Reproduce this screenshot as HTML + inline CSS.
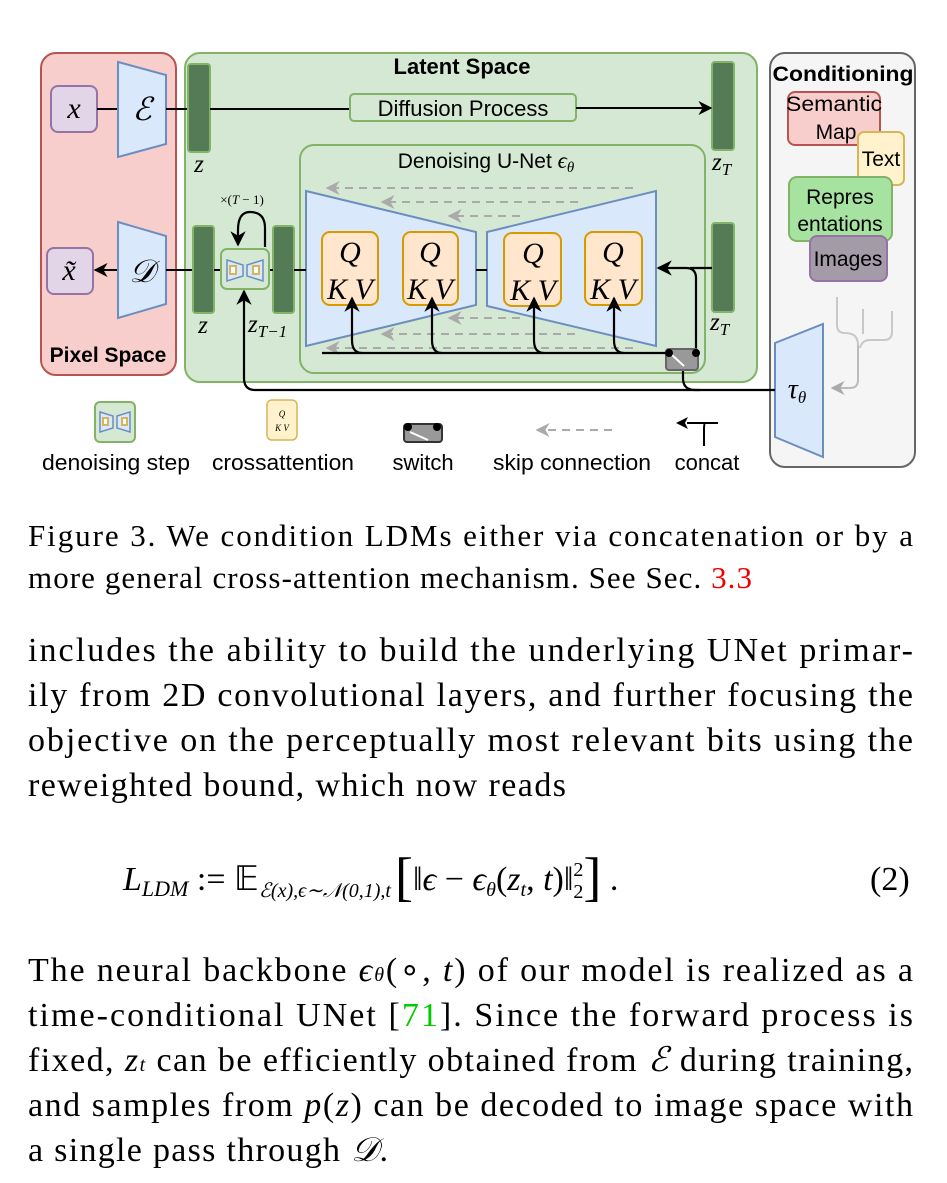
<!DOCTYPE html>
<html><head><meta charset="utf-8"><style>
body{margin:0;background:#fff}
svg{display:block}
.s{font-family:"Liberation Sans",sans-serif}
.r{font-family:"Liberation Serif",serif}
.i{font-family:"Liberation Serif",serif;font-style:italic}
</style></head><body>
<svg width="947" height="1183" viewBox="0 0 947 1183" xmlns="http://www.w3.org/2000/svg">
<defs>
<marker id="ah" viewBox="0 0 10 10" refX="9" refY="5" markerWidth="7" markerHeight="7" orient="auto"><path d="M0,0 L10,5 L0,10 L3,5 z" fill="#000"/></marker>
<marker id="ag" viewBox="0 0 10 10" refX="9" refY="5" markerWidth="7" markerHeight="7" orient="auto"><path d="M0,0 L10,5 L0,10 L3,5 z" fill="#aaa"/></marker>
</defs>
<rect x="41" y="53" width="135" height="322" rx="15" fill="#f8cecc" stroke="#b85450" stroke-width="2"/>
<text x="108" y="362" class="s" font-weight="bold" font-size="21" text-anchor="middle">Pixel Space</text>
<rect x="185" y="53" width="572" height="329" rx="15" fill="#d5e8d4" stroke="#82b366" stroke-width="2"/>
<text x="462" y="74" class="s" font-weight="bold" font-size="22" text-anchor="middle">Latent Space</text>
<rect x="770" y="53" width="145" height="414" rx="15" fill="#f5f5f5" stroke="#666" stroke-width="2"/>
<text x="843" y="81" class="s" font-weight="bold" font-size="21" text-anchor="middle" textLength="141" lengthAdjust="spacingAndGlyphs">Conditioning</text>
<rect x="788" y="92" width="92" height="53" rx="7" fill="#f8cecc" stroke="#b85450" stroke-width="2"/>
<text x="834" y="111" class="s" font-size="21" text-anchor="middle" textLength="96" lengthAdjust="spacingAndGlyphs">Semantic</text>
<text x="836" y="139" class="s" font-size="21" text-anchor="middle">Map</text>
<rect x="858" y="132" width="46" height="53" rx="6" fill="#fff2cc" stroke="#d6b656" stroke-width="2"/>
<text x="881" y="166" class="s" font-size="21" text-anchor="middle">Text</text>
<rect x="789" y="177" width="103" height="64" rx="8" fill="#a6e3a0" stroke="#82b366" stroke-width="2"/>
<text x="840" y="204" class="s" font-size="21" text-anchor="middle">Repres</text>
<text x="840" y="231" class="s" font-size="21" text-anchor="middle">entations</text>
<rect x="810" y="236" width="77" height="45" rx="7" fill="#a39ba8" stroke="#9673a6" stroke-width="2"/>
<text x="848" y="266" class="s" font-size="21" text-anchor="middle">Images</text>
<path d="M837,297 V325 Q837,333 845,333 Q858,333 858,345 M863,309 V334 M892,311 V332 Q892,340 884,340 H870 Q862,340 860,348" fill="none" stroke="#c8c8c8" stroke-width="2"/>
<path d="M858,345 V380 Q858,388 850,388 H832" fill="none" stroke="#bbb" stroke-width="2" marker-end="url(#ag)"/>
<polygon points="775,343 823,324 823,457 775,437" fill="#dae8fc" stroke="#6c8ebf" stroke-width="2"/>
<text x="797" y="398" class="i" font-size="28" text-anchor="middle">τ<tspan font-size="17" dy="5">θ</tspan></text>
<rect x="51" y="86" width="46" height="46" rx="7" fill="#e1d5e7" stroke="#9673a6" stroke-width="2"/>
<text x="74" y="118" class="i" font-size="30" text-anchor="middle">x</text>
<line x1="97" y1="109" x2="118" y2="109" stroke="#000" stroke-width="2"/>
<polygon points="118,62 166,75 166,144 118,157" fill="#dae8fc" stroke="#6c8ebf" stroke-width="2"/>
<text x="142" y="120" class="i" font-size="32" text-anchor="middle">ℰ</text>
<line x1="166" y1="109" x2="188" y2="109" stroke="#000" stroke-width="2"/>
<rect x="47" y="248" width="46" height="46" rx="7" fill="#e1d5e7" stroke="#9673a6" stroke-width="2"/>
<text x="69" y="280" class="i" font-size="30" text-anchor="middle">x̃</text>
<line x1="118" y1="270" x2="95" y2="270" stroke="#000" stroke-width="2" marker-end="url(#ah)"/>
<polygon points="118,222 166,236 166,304 118,318" fill="#dae8fc" stroke="#6c8ebf" stroke-width="2"/>
<text x="142" y="282" class="i" font-size="32" text-anchor="middle">𝒟</text>
<line x1="166" y1="270" x2="193" y2="270" stroke="#000" stroke-width="2"/>
<g fill="#547a56" stroke="#82b366" stroke-width="2">
<rect x="188" y="64" width="22" height="88" rx="3"/>
<rect x="712" y="62" width="22" height="88" rx="3"/>
<rect x="193" y="226" width="21" height="87" rx="3"/>
<rect x="273" y="226" width="21" height="87" rx="3"/>
<rect x="712" y="223" width="22" height="89" rx="3"/>
</g>
<text x="199" y="172" class="i" font-size="25" text-anchor="middle">z</text>
<text x="203" y="333" class="i" font-size="25" text-anchor="middle">z</text>
<text x="712" y="170" class="i" font-size="25">z<tspan font-size="17" dy="5">T</tspan></text>
<text x="710" y="330" class="i" font-size="25">z<tspan font-size="17" dy="5">T</tspan></text>
<text x="248" y="332" class="i" font-size="25">z<tspan font-size="17" dy="5">T−1</tspan></text>
<line x1="210" y1="109" x2="350" y2="109" stroke="#000" stroke-width="2"/>
<rect x="350" y="94" width="226" height="27" rx="4" fill="#d5e8d4" stroke="#82b366" stroke-width="2"/>
<text x="463" y="116" class="s" font-size="22" text-anchor="middle">Diffusion Process</text>
<line x1="576" y1="108" x2="711" y2="108" stroke="#000" stroke-width="2" marker-end="url(#ah)"/>
<rect x="300" y="145" width="405" height="228" rx="14" fill="#d5e8d4" stroke="#82b366" stroke-width="2"/>
<text x="486" y="168" class="s" font-size="21" text-anchor="middle">Denoising U-Net <tspan class="i" font-size="23">ϵ</tspan><tspan class="i" font-size="15" dy="4">θ</tspan></text>
<g stroke="#aaa" stroke-width="2" stroke-dasharray="8,6" fill="none">
<line x1="633" y1="188" x2="327" y2="188" marker-end="url(#ag)"/>
<line x1="578" y1="202" x2="382" y2="202" marker-end="url(#ag)"/>
<line x1="520" y1="216" x2="449" y2="216" marker-end="url(#ag)"/>
<line x1="520" y1="318" x2="449" y2="318" marker-end="url(#ag)"/>
<line x1="575" y1="334" x2="382" y2="334" marker-end="url(#ag)"/>
<line x1="633" y1="348" x2="327" y2="348" marker-end="url(#ag)"/>
</g>
<polygon points="306,191 476,232 476,305 306,346" fill="#dae8fc" stroke="#6c8ebf" stroke-width="2"/>
<polygon points="487,232 656,191 656,346 487,306" fill="#dae8fc" stroke="#6c8ebf" stroke-width="2"/>
<line x1="294" y1="270" x2="306" y2="270" stroke="#000" stroke-width="2"/>
<line x1="476" y1="270" x2="487" y2="270" stroke="#000" stroke-width="2"/>
<line x1="214" y1="270" x2="221" y2="270" stroke="#000" stroke-width="2"/>
<line x1="269" y1="270" x2="273" y2="270" stroke="#000" stroke-width="2"/>
<g fill="#ffe6cc" stroke="#d79b00" stroke-width="2">
<rect x="322" y="232" width="56" height="73" rx="8"/>
<rect x="403" y="232" width="55" height="73" rx="8"/>
<rect x="504" y="233" width="57" height="73" rx="8"/>
<rect x="585" y="232" width="57" height="73" rx="8"/>
</g>
<g class="i" font-size="30" text-anchor="middle">
<text x="350" y="262">Q</text><text x="350" y="299">K V</text>
<text x="430" y="262">Q</text><text x="430" y="299">K V</text>
<text x="533" y="263">Q</text><text x="533" y="300">K V</text>
<text x="613" y="262">Q</text><text x="613" y="299">K V</text>
</g>
<g fill="none" stroke="#000" stroke-width="2.2">
<path d="M322,353 H669"/>
<path d="M362,353 Q352,353 352,340 V298" marker-end="url(#ah)"/>
<path d="M442,353 Q432,353 432,340 V298" marker-end="url(#ah)"/>
<path d="M544,353 Q534,353 534,340 V298" marker-end="url(#ah)"/>
<path d="M624,353 Q614,353 614,340 V298" marker-end="url(#ah)"/>
<path d="M696,353 V278 Q696,268 686,268 H658" marker-end="url(#ah)"/>
<path d="M712,268 H690"/>
<path d="M775,390 H695 Q683,390 683,378 V366"/>
<path d="M700,390 H255 Q244,390 244,378 V291" marker-end="url(#ah)"/>
<path d="M265,247 V228 Q265,212 250,212 Q238,212 238,230 V245" marker-end="url(#ah)"/>
</g>
<rect x="666" y="349" width="32" height="21" rx="3" fill="#999" stroke="#666" stroke-width="2"/>
<line x1="672" y1="355" x2="684" y2="366" stroke="#fff" stroke-width="2"/>
<circle cx="669" cy="353" r="4"/><circle cx="696" cy="353" r="4"/>
<text x="242" y="204" class="r" font-size="13" text-anchor="middle">×(<tspan class="i">T</tspan> − 1)</text>
<rect x="221" y="249" width="48" height="40" rx="6" fill="#d5e8d4" stroke="#82b366" stroke-width="2"/>
<polygon points="227,260 243,265 243,276 227,281" fill="#dae8fc" stroke="#6c8ebf" stroke-width="1.5"/>
<polygon points="247,265 263,260 263,281 247,276" fill="#dae8fc" stroke="#6c8ebf" stroke-width="1.5"/>
<rect x="230" y="266" width="6" height="8" fill="#fff" stroke="#d6b656" stroke-width="2"/>
<rect x="253" y="266" width="6" height="8" fill="#fff" stroke="#d6b656" stroke-width="2"/>
<rect x="95" y="402" width="40" height="40" rx="5" fill="#d5e8d4" stroke="#82b366" stroke-width="2"/>
<polygon points="100,412 113,416 113,428 100,432" fill="#dae8fc" stroke="#6c8ebf" stroke-width="1.5"/>
<polygon points="117,416 130,412 130,432 117,428" fill="#dae8fc" stroke="#6c8ebf" stroke-width="1.5"/>
<rect x="103" y="418" width="5" height="7" fill="#fff" stroke="#d6b656" stroke-width="2"/>
<rect x="122" y="418" width="5" height="7" fill="#fff" stroke="#d6b656" stroke-width="2"/>
<text x="116" y="470" class="s" font-size="22" text-anchor="middle" textLength="148" lengthAdjust="spacingAndGlyphs">denoising step</text>
<rect x="267" y="400" width="30" height="40" rx="5" fill="#fff2cc" stroke="#d6b656" stroke-width="1.5"/>
<text x="282" y="417" class="i" font-size="9" text-anchor="middle">Q</text>
<text x="282" y="431" class="i" font-size="9" text-anchor="middle">K V</text>
<text x="283" y="470" class="s" font-size="22" text-anchor="middle" textLength="142" lengthAdjust="spacingAndGlyphs">crossattention</text>
<rect x="404" y="424" width="38" height="18" rx="3" fill="#999" stroke="#333" stroke-width="2"/>
<line x1="410" y1="432" x2="428" y2="440" stroke="#fff" stroke-width="2"/>
<circle cx="408" cy="427" r="4"/><circle cx="437" cy="427" r="4"/>
<text x="423" y="470" class="s" font-size="22" text-anchor="middle">switch</text>
<line x1="612" y1="430" x2="537" y2="430" stroke="#aaa" stroke-width="2" stroke-dasharray="8,6" marker-end="url(#ag)"/>
<text x="572" y="470" class="s" font-size="22" text-anchor="middle" textLength="158" lengthAdjust="spacingAndGlyphs">skip connection</text>
<path d="M718,423 H687 M705,423 Q704,423 704,430 V446" fill="none" stroke="#000" stroke-width="2"/>
<path d="M676,423 L688,417 L685,423 L688,429 z"/>
<text x="707" y="470" class="s" font-size="22" text-anchor="middle">concat</text>
<g class="r" font-size="31">
<text x="28" y="546" textLength="885" lengthAdjust="spacing">Figure 3.   We condition LDMs either via concatenation or by a</text>
<text x="28" y="588" textLength="724" lengthAdjust="spacing">more general cross-attention mechanism. See Sec. <tspan fill="#e00">3.3</tspan></text>
</g>
<g class="r" font-size="34">
<text x="28" y="661" textLength="885" lengthAdjust="spacing">includes the ability to build the underlying UNet primar-</text>
<text x="28" y="706" textLength="885" lengthAdjust="spacing">ily from 2D convolutional layers, and further focusing the</text>
<text x="28" y="751" textLength="885" lengthAdjust="spacing">objective on the perceptually most relevant bits using the</text>
<text x="28" y="796" textLength="538" lengthAdjust="spacing">reweighted bound, which now reads</text>
<text x="123" y="890"><tspan class="i">L</tspan><tspan class="i" font-size="22" dy="6">LDM</tspan><tspan dy="-6"> := 𝔼</tspan><tspan class="i" font-size="20" dy="7">ℰ(x),ϵ∼𝒩(0,1),t</tspan><tspan dy="-2" font-size="54" dx="4">[</tspan><tspan dy="-5">‖</tspan><tspan class="i">ϵ</tspan> − <tspan class="i">ϵ</tspan><tspan class="i" font-size="20" dy="6">θ</tspan><tspan dy="-6">(</tspan><tspan class="i">z</tspan><tspan class="i" font-size="20" dy="6">t</tspan><tspan dy="-6">, </tspan><tspan class="i">t</tspan>)‖<tspan font-size="20" dy="8">2</tspan><tspan font-size="20" dx="-10" dy="-22">2</tspan><tspan font-size="54" dy="19">]</tspan><tspan dy="-5"> .</tspan></text>
<text x="870" y="890">(2)</text>
<text x="28" y="981" textLength="885" lengthAdjust="spacing">The neural backbone <tspan class="i">ϵ</tspan><tspan class="i" font-size="20">θ</tspan>(∘, <tspan class="i">t</tspan>) of our model is realized as a</text>
<text x="28" y="1026" textLength="885" lengthAdjust="spacing">time-conditional UNet [<tspan fill="#0c0">71</tspan>].  Since the forward process is</text>
<text x="28" y="1071" textLength="885" lengthAdjust="spacing">fixed, <tspan class="i">z</tspan><tspan class="i" font-size="20">t</tspan> can be efficiently obtained from <tspan class="i">ℰ</tspan> during training,</text>
<text x="28" y="1116" textLength="885" lengthAdjust="spacing">and samples from <tspan class="i">p</tspan>(<tspan class="i">z</tspan>) can be decoded to image space with</text>
<text x="28" y="1161" textLength="360" lengthAdjust="spacing">a single pass through <tspan class="i">𝒟</tspan>.</text>
</g>
</svg>
</body></html>
